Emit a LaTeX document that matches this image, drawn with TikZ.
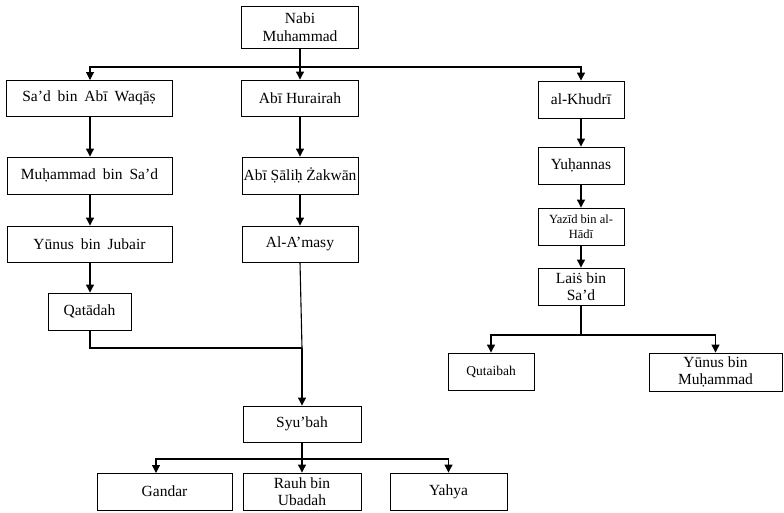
\documentclass[tikz,border=0pt]{standalone}
\usepackage{fontspec}
\setmainfont{Liberation Serif}
\usetikzlibrary{arrows.meta}

\tikzset{
  person/.style={draw, line width=0.9pt, inner sep=0pt, align=center,
    font=\fontsize{15.5}{17.5}\selectfont},
  smalltext/.style={font=\fontsize{12.5}{15.5}\selectfont},
  midtext/.style={font=\fontsize{13.5}{16}\selectfont},
  widespace/.style={execute at begin node={\spaceskip=0.45em plus 0.1em\relax}},
  link/.style={line width=1.1pt},
  arrow/.style={link, -{Triangle[length=8pt,width=8pt]}},
}

\begin{document}
\begin{tikzpicture}[x=1pt, y=-1pt]
  \useasboundingbox (0,0) rectangle (784,512);

  % top of the chain
  \node[person, minimum width=117pt, minimum height=42pt] (nabi) at (300,27) {Nabi\\Muhammad};

  % left line
  \node[person, widespace, minimum width=166pt, minimum height=36pt] (sad) at (89,98) {Sa’d bin Abī Waqāṣ};
  \node[person, widespace, minimum width=165pt, minimum height=37pt] (muhsad) at (89.5,175.5) {Muḥammad bin Sa’d};
  \node[person, widespace, minimum width=165pt, minimum height=36pt] (yunusj) at (89.5,244) {Yūnus bin Jubair};
  \node[person, minimum width=83pt, minimum height=37pt] (qatadah) at (89.5,311.5) {Qatādah};

  % middle line
  \node[person, minimum width=117pt, minimum height=36pt] (abihur) at (300,98) {Abī Hurairah};
  \node[person, minimum width=116pt, minimum height=37pt] (abisalih) at (300,175.5) {Abī Ṣāliḥ Żakwān};
  \node[person, minimum width=116pt, minimum height=36pt] (amasy) at (300,244) {Al-A’masy};

  % right line
  \node[person, minimum width=86pt, minimum height=37pt] (khudri) at (581,99.5) {al-Khudrī};
  \node[person, minimum width=86pt, minimum height=37pt] (yuhannas) at (581,165.5) {Yuḥannas};
  \node[person, smalltext, minimum width=86pt, minimum height=37pt] (yazid) at (581,226.5) {Yazīd bin al-\\Hādī};
  \node[person, minimum width=86pt, minimum height=37pt] (lais) at (581,286.5) {Laiṡ bin\\Sa’d};
  \node[person, midtext, minimum width=86pt, minimum height=37pt] (qutaibah) at (491,371.5) {Qutaibah};
  \node[person, minimum width=133pt, minimum height=38pt] (yunusm) at (715.5,372) {Yūnus bin\\Muḥammad};

  % lower part
  \node[person, minimum width=118pt, minimum height=36pt] (syubah) at (302,424) {Syu’bah};
  \node[person, minimum width=135pt, minimum height=37pt] (gandar) at (164.5,491.5) {Gandar};
  \node[person, minimum width=118pt, minimum height=37pt] (rauh) at (302,491.5) {Rauh bin\\Ubadah};
  \node[person, minimum width=117pt, minimum height=37pt] (yahya) at (448.5,491.5) {Yahya};

  % junction points
  \coordinate (topbus) at (300,67);
  \coordinate (sadin) at (90,80);
  \coordinate (meet) at (302,348);
  \coordinate (laisbus) at (581,335);
  \coordinate (syubus) at (302,459);
  \coordinate (gandarin) at (156,473);

  % branching from the top
  \draw[link] (nabi.south) -- (topbus);
  \draw[arrow] (topbus) -| (sadin);
  \draw[arrow] (topbus) -- (abihur.north);
  \draw[arrow] (topbus) -| (khudri.north);

  % single steps
  \draw[arrow] (sad.south -| sadin) -- (muhsad.north -| sadin);
  \draw[arrow] (muhsad.south -| sadin) -- (yunusj.north -| sadin);
  \draw[arrow] (yunusj.south -| sadin) -- (qatadah.north -| sadin);
  \draw[arrow] (abihur.south) -- (abisalih.north);
  \draw[arrow] (abisalih.south) -- (amasy.north);
  \draw[arrow] (khudri.south) -- (yuhannas.north);
  \draw[arrow] (yuhannas.south) -- (yazid.north);
  \draw[arrow] (yazid.south) -- (lais.north);

  % two lines joining at Syu'bah
  \draw[link] (qatadah.south -| sadin) |- (meet);
  \draw[link] (amasy.south) -- (meet);
  \draw[arrow] (meet) -- (syubah.north);

  % branching from Lais
  \draw[link] (lais.south) -- (laisbus);
  \draw[arrow] (laisbus) -| (qutaibah.north);
  \draw[arrow] (laisbus) -| (yunusm.north);

  % branching from Syu'bah
  \draw[link] (syubah.south) -- (syubus);
  \draw[arrow] (syubus) -| (gandarin);
  \draw[arrow] (syubus) -- (rauh.north);
  \draw[arrow] (syubus) -| (yahya.north);
\end{tikzpicture}
\end{document}
